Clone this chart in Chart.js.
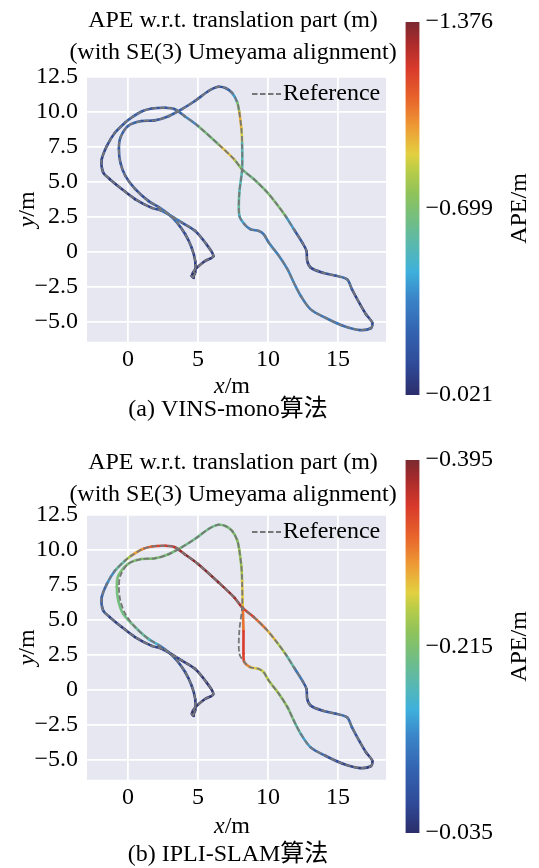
<!DOCTYPE html>
<html>
<head>
<meta charset="utf-8">
<script src="https://cdn.jsdelivr.net/npm/chart.js@4.4.1/dist/chart.umd.min.js"></script>
<style>
  body { margin: 0; background: #fff; width: 539px; height: 868px; position: relative; overflow: hidden; }
  canvas { position: absolute; }
</style>
</head>
<body>
<canvas id="trajA" width="396" height="428" style="left:0;top:0"></canvas>
<canvas id="barA" width="143" height="428" style="left:396px;top:0"></canvas>
<canvas id="trajB" width="396" height="430" style="left:0;top:438px"></canvas>
<canvas id="barB" width="143" height="430" style="left:396px;top:438px"></canvas>
<script>
// reference trajectory (m)
const refX = [4.65, 4.8, 4.8, 4.55, 4.1, 3.5, 2.9, 2.2, 1.45, 0.5,
  -0.2, -0.55, -0.65, -0.55, 0.0, 0.95, 1.9, 2.9, 3.85, 4.8,
  5.75, 6.45, 7.0, 7.45, 7.8, 7.95, 8.1, 8.15, 8.15, 7.95,
  7.95, 8.3, 8.75, 9.35, 9.7, 10.05, 10.8, 11.4, 11.85, 12.35,
  13.05, 14.1, 15.3, 16.5, 17.35, 17.45, 17.0, 16.5, 16.0, 15.65,
  14.85, 13.9, 13.05, 12.8, 12.75, 12.45, 11.85, 11.25, 10.55, 9.85,
  9.0, 8.15, 7.6, 6.45, 5.0, 4.05, 3.35, 2.65, 1.7, 1.0,
  0.25, -0.2, -0.95, -1.5, -1.88, -1.78, -1.3, -0.45, 0.5, 1.7,
  2.4, 3.1, 3.85, 4.8, 5.6, 6.1, 5.5, 4.8, 4.55, 4.7];
const refY = [-1.8, -1.45, -0.65, 0.3, 1.25, 2.1, 2.7, 3.2, 3.65, 4.5,
  5.45, 6.4, 7.35, 8.15, 9.0, 9.35, 9.4, 9.7, 10.2, 10.8,
  11.5, 11.8, 11.7, 11.35, 10.7, 10.0, 8.8, 7.8, 5.9, 4.2,
  2.6, 2.0, 1.62, 1.5, 1.26, 0.67, -0.3, -1.25, -2.2, -3.15,
  -4.1, -4.7, -5.25, -5.57, -5.45, -5.05, -4.45, -3.6, -2.67, -1.95,
  -1.7, -1.48, -1.12, -0.64, 0.07, 0.67, 1.62, 2.57, 3.52, 4.36,
  5.2, 5.9, 6.6, 7.7, 9.0, 9.7, 10.2, 10.3, 10.25, 10.05,
  9.6, 9.25, 8.5, 7.6, 6.6, 5.7, 5.2, 4.5, 3.78, 3.15,
  2.95, 2.57, 2.1, 1.5, 0.55, -0.3, -0.65, -1.25, -1.72, -1.85];

// (a) VINS-mono: APE along the trajectory (m)
const vinsApe = [0.06, 0.07, 0.08, 0.1, 0.12, 0.15, 0.4, 0.22, 0.15, 0.12,
  0.2, 0.15, 0.25, 0.18, 0.3, 0.2, 0.15, 0.22, 0.25, 0.18,
  0.15, 0.15, 0.18, 0.3, 0.55, 0.85, 1.05, 0.7, 0.4, 0.7,
  0.5, 0.4, 0.3, 0.35, 0.3, 0.35, 0.4, 0.35, 0.4, 0.35,
  0.3, 0.35, 0.3, 0.25, 0.18, 0.12, 0.1, 0.08, 0.1, 0.35,
  0.2, 0.12, 0.1, 0.08, 0.1, 0.15, 0.25, 0.6, 0.8, 0.6,
  0.75, 0.55, 0.95, 0.9, 0.45, 0.3, 0.22, 0.18, 0.15, 0.2,
  0.25, 0.2, 0.15, 0.12, 0.1, 0.09, 0.08, 0.07, 0.08, 0.1,
  0.2, 0.45, 0.22, 0.12, 0.1, 0.07, 0.06, 0.05, 0.04, 0.04];

// (b) IPLI-SLAM: estimated x (m) and APE (m)
const ipliX = [4.65, 4.8, 4.8, 4.55, 4.1, 3.5, 2.9, 2.2, 1.45, 0.5,
  -0.35, -0.7, -0.8, -0.7, 0.0, 0.95, 1.9, 2.9, 3.85, 4.8,
  5.75, 6.45, 7.0, 7.45, 7.8, 7.95, 8.1, 8.15, 8.2, 8.25,
  8.25, 8.3, 8.75, 9.35, 9.7, 10.05, 10.8, 11.4, 11.85, 12.35,
  13.05, 14.1, 15.3, 16.5, 17.35, 17.45, 17.0, 16.5, 16.0, 15.65,
  14.85, 13.9, 13.05, 12.8, 12.75, 12.45, 11.85, 11.25, 10.55, 9.85,
  9.0, 8.15, 7.6, 6.45, 5.0, 4.05, 3.35, 2.65, 1.7, 1.0,
  0.25, -0.2, -0.95, -1.5, -1.88, -1.78, -1.3, -0.45, 0.5, 1.7,
  2.4, 3.1, 3.85, 4.8, 5.6, 6.1, 5.5, 4.8, 4.55, 4.7];
const ipliApe = [0.04, 0.045, 0.05, 0.055, 0.06, 0.07, 0.09, 0.14, 0.18, 0.2,
  0.205, 0.205, 0.21, 0.21, 0.215, 0.215, 0.215, 0.21, 0.205, 0.2,
  0.2, 0.205, 0.21, 0.215, 0.22, 0.23, 0.24, 0.25, 0.29, 0.34,
  0.36, 0.33, 0.28, 0.26, 0.255, 0.245, 0.235, 0.22, 0.2, 0.17,
  0.12, 0.08, 0.06, 0.05, 0.045, 0.05, 0.055, 0.065, 0.08, 0.12,
  0.09, 0.07, 0.06, 0.06, 0.07, 0.09, 0.14, 0.23, 0.26, 0.3,
  0.33, 0.36, 0.38, 0.39, 0.39, 0.385, 0.37, 0.35, 0.34, 0.31,
  0.27, 0.22, 0.16, 0.11, 0.09, 0.08, 0.06, 0.05, 0.05, 0.05,
  0.06, 0.06, 0.05, 0.045, 0.04, 0.04, 0.04, 0.04, 0.04, 0.04];

// axes
const xTicks = [0, 5, 10, 15];
const xTickLabels = ['0', '5', '10', '15'];
const yTicks = [-5, -2.5, 0, 2.5, 5, 7.5, 10, 12.5];
const yTickLabels = ['\u22125.0', '\u22122.5', '0', '2.5', '5.0', '7.5', '10.0', '12.5'];

// colour bars
const cbTicksA = [0.021, 0.699, 1.376];
const cbLabelsA = ['\u22120.021', '\u22120.699', '\u22121.376'];
const cbTicksB = [0.035, 0.215, 0.395];
const cbLabelsB = ['\u22120.035', '\u22120.215', '\u22120.395'];

const titleLines = ['APE w.r.t. translation part (m)', '(with SE(3) Umeyama alignment)'];
const captionA = '(a) VINS-mono\u7b97\u6cd5';
const captionB = '(b) IPLI-SLAM\u7b97\u6cd5';

// look
const FAMILY = '"Liberation Serif", "Noto Sans CJK SC", serif';
const FONT = '24px ' + FAMILY;
const FONT_IT = 'italic 24px ' + FAMILY;
const refColor = '#777777';
const cmapStops = [
  [0.00, '#2c2d6b'], [0.08, '#2f4a98'], [0.17, '#3363b0'], [0.26, '#3a85c8'],
  [0.33, '#3eb0dc'], [0.40, '#58b8b0'], [0.47, '#72be82'], [0.54, '#8fc35a'],
  [0.60, '#b8cc48'], [0.645, '#e2d040'], [0.72, '#ee9a35'], [0.79, '#e8672b'],
  [0.875, '#d93a2b'], [0.95, '#a62a2b'], [1.00, '#7a2a30']
];

Chart.defaults.font.family = FAMILY;
Chart.defaults.font.size = 24;
Chart.defaults.color = '#000';

function hexRgb(h) {
  return [parseInt(h.slice(1, 3), 16), parseInt(h.slice(3, 5), 16), parseInt(h.slice(5, 7), 16)];
}

function cmap(f) {
  f = Math.max(0, Math.min(1, f));
  for (let i = 1; i < cmapStops.length; i++) {
    const [f1, c1] = cmapStops[i];
    if (f <= f1) {
      const [f0, c0] = cmapStops[i - 1];
      const t = (f - f0) / (f1 - f0);
      const a = hexRgb(c0), b = hexRgb(c1);
      return 'rgb(' + a.map((v, k) => Math.round(v + (b[k] - v) * t)).join(',') + ')';
    }
  }
  return cmapStops[cmapStops.length - 1][1];
}

function mixedText(ctx, it, rest, x, y, rot) {
  ctx.save();
  ctx.translate(x, y);
  ctx.rotate(rot);
  ctx.textBaseline = 'middle';
  ctx.textAlign = 'left';
  ctx.font = FONT_IT;
  const w1 = ctx.measureText(it).width;
  ctx.font = FONT;
  const w2 = ctx.measureText(rest).width;
  const s = -(w1 + w2) / 2;
  ctx.font = FONT_IT;
  ctx.fillText(it, s, 0);
  ctx.font = FONT;
  ctx.fillText(rest, s + w1, 0);
  ctx.restore();
}

// plot background, title, legend, axis labels and caption
const panelDeco = {
  id: 'panelDeco',
  beforeDraw(chart) {
    const { ctx, chartArea: a } = chart;
    ctx.save();
    ctx.fillStyle = '#e6e7f0';
    ctx.fillRect(a.left, a.top, a.width, a.height);
    ctx.restore();
  },
  afterDraw(chart, args, o) {
    const { ctx, chartArea: a } = chart;
    ctx.save();
    ctx.fillStyle = '#000';
    ctx.font = FONT;
    ctx.textAlign = 'center';
    ctx.textBaseline = 'middle';
    titleLines.forEach((t, i) => ctx.fillText(t, o.titleX, o.titleY + i * 32));

    ctx.strokeStyle = refColor;
    ctx.lineWidth = 1.8;
    ctx.setLineDash([5.5, 2.5]);
    ctx.beginPath();
    ctx.moveTo(a.right - 134, a.top + 17);
    ctx.lineTo(a.right - 105, a.top + 17);
    ctx.stroke();
    ctx.setLineDash([]);
    ctx.textAlign = 'left';
    ctx.textBaseline = 'alphabetic';
    ctx.fillText('Reference', a.right - 103, a.top + 23);

    mixedText(ctx, 'x', '/m', o.xLabelX, o.xLabelY, 0);
    mixedText(ctx, 'y', '/m', o.yLabelX, (a.top + a.bottom) / 2, -Math.PI / 2);

    ctx.textAlign = 'center';
    ctx.textBaseline = 'middle';
    ctx.font = FONT;
    ctx.fillText(o.caption, o.capX, o.capY);
    ctx.restore();
  }
};

function makeTraj(id, estX, estY, ape, lo, hi, o) {
  const norm = v => (v - lo) / (hi - lo);
  return new Chart(document.getElementById(id), {
    type: 'scatter',
    data: {
      datasets: [{
        label: 'Reference',
        data: refX.map((x, i) => ({ x, y: refY[i] })),
        showLine: true,
        borderColor: refColor,
        borderWidth: 1.8,
        borderDash: [5.5, 2.5],
        pointRadius: 0,
        tension: 0.3
      }, {
        label: 'estimate',
        data: estX.map((x, i) => ({ x, y: estY[i] })),
        showLine: true,
        borderWidth: 2.6,
        borderCapStyle: 'round',
        borderJoinStyle: 'round',
        pointRadius: 0,
        tension: 0.3,
        segment: {
          borderColor: c => cmap(norm((ape[c.p0DataIndex] + ape[c.p1DataIndex]) / 2))
        }
      }]
    },
    options: {
      animation: false,
      responsive: false,
      events: [],
      layout: { padding: { left: 0, right: 10, top: 77, bottom: 0 } },
      plugins: {
        legend: { display: false },
        tooltip: { enabled: false },
        title: { display: false },
        panelDeco: o
      },
      scales: {
        x: {
          type: 'linear', min: -2.93, max: 18.43,
          afterBuildTicks: s => { s.ticks = xTicks.map(v => ({ value: v })); },
          afterFit: s => { s.height = o.xAxisH; },
          grid: { color: '#ffffff', lineWidth: 1.8, drawTicks: false },
          border: { display: false },
          ticks: { padding: 4, autoSkip: false, maxRotation: 0, color: '#000',
            callback: v => xTickLabels[xTicks.indexOf(v)] }
        },
        y: {
          type: 'linear', min: -6.41, max: 12.5,
          afterBuildTicks: s => { s.ticks = yTicks.map(v => ({ value: v })); },
          afterFit: s => { s.width = 87; },
          grid: { color: '#ffffff', lineWidth: 1.8, drawTicks: false },
          border: { display: false },
          ticks: { padding: 9, autoSkip: false, color: '#000',
            callback: v => yTickLabels[yTicks.indexOf(v)] }
        }
      }
    },
    plugins: [panelDeco]
  });
}

// colour bar title
const cbDeco = {
  id: 'cbDeco',
  afterDraw(chart) {
    const { ctx, chartArea: a } = chart;
    ctx.save();
    ctx.translate(124, (a.top + a.bottom) / 2);
    ctx.rotate(-Math.PI / 2);
    ctx.fillStyle = '#000';
    ctx.font = FONT;
    ctx.textAlign = 'center';
    ctx.textBaseline = 'middle';
    ctx.fillText('APE/m', 0, 0);
    ctx.restore();
  }
};

function makeBar(id, lo, hi, ticks, labels, h) {
  return new Chart(document.getElementById(id), {
    type: 'bar',
    data: {
      labels: [''],
      datasets: [{
        data: [[lo, hi]],
        borderWidth: 0,
        borderSkipped: false,
        barPercentage: 1,
        categoryPercentage: 1,
        backgroundColor: c => {
          const a = c.chart.chartArea;
          if (!a) return '#888';
          const g = c.chart.ctx.createLinearGradient(0, a.bottom, 0, a.top);
          cmapStops.forEach(([f, col]) => g.addColorStop(f, col));
          return g;
        }
      }]
    },
    options: {
      animation: false,
      responsive: false,
      events: [],
      layout: { padding: { left: 9.5, right: 0, top: 22, bottom: h - 395 } },
      plugins: { legend: { display: false }, tooltip: { enabled: false } },
      scales: {
        x: { display: false },
        y: {
          position: 'right', min: lo, max: hi,
          afterBuildTicks: s => { s.ticks = ticks.map(v => ({ value: v })); },
          afterFit: s => { s.width = 143 - 23.5; },
          grid: { display: false, drawTicks: false },
          border: { display: false },
          ticks: { padding: 6, autoSkip: false, color: '#000',
            callback: v => labels[ticks.indexOf(v)] }
        }
      }
    },
    plugins: [cbDeco]
  });
}

makeTraj('trajA', refX, refY, vinsApe, cbTicksA[0], cbTicksA[2],
  { titleX: 233, titleY: 21, xAxisH: 428 - 341.7, xLabelX: 232, xLabelY: 387, yLabelX: 27.5,
    caption: captionA, capX: 228, capY: 410 });
makeBar('barA', cbTicksA[0], cbTicksA[2], cbTicksA, cbLabelsA, 428);

makeTraj('trajB', ipliX, refY, ipliApe, cbTicksB[0], cbTicksB[2],
  { titleX: 233, titleY: 25, xAxisH: 430 - 341.7, xLabelX: 232, xLabelY: 389, yLabelX: 27.5,
    caption: captionB, capX: 228, capY: 417 });
makeBar('barB', cbTicksB[0], cbTicksB[2], cbTicksB, cbLabelsB, 430);
</script>
</body>
</html>
